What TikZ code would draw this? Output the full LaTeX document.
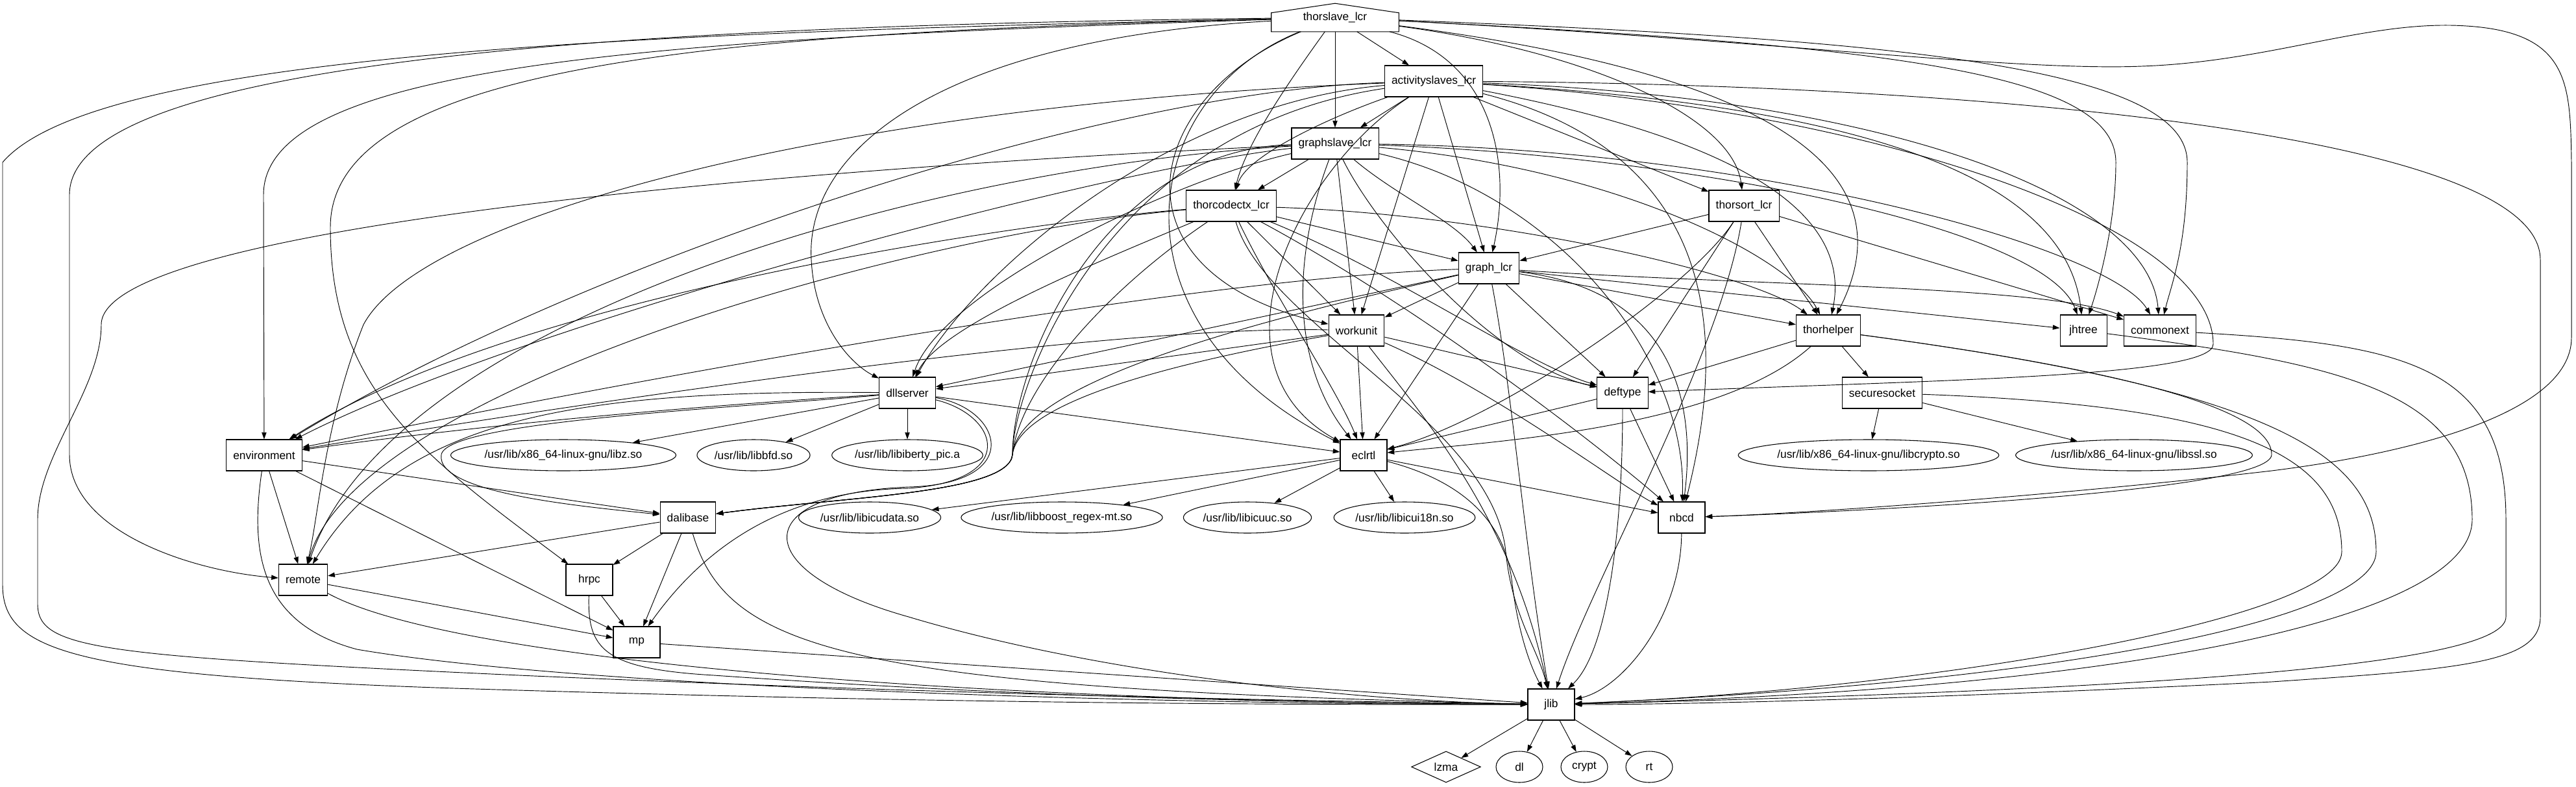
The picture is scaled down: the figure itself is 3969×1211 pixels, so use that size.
\documentclass[tikz,border=0pt]{standalone}
\usepackage{fontspec}
\setmainfont{Liberation Sans}
\usepackage{tikz}
\usetikzlibrary{arrows.meta,shapes.geometric}

\begin{document}
\begin{tikzpicture}[
  x=0.75pt, y=-0.75pt,
  every node/.style={font=\fontsize{13pt}{15pt}\selectfont},
  box/.style={draw, line width=0.8pt, rectangle, minimum width=54pt, minimum height=36pt, inner xsep=8pt},
  lib/.style={draw, line width=0.8pt, ellipse, minimum width=54pt, minimum height=36pt, inner xsep=1pt, inner ysep=2pt},
  dep/.style={-{Triangle[length=8pt,width=5.5pt]}, line width=0.7pt}
]
  \useasboundingbox (0,0) rectangle (3969,1211);

  \node[rectangle, minimum width=147pt, minimum height=32.3pt, inner sep=0pt]
        (thorslave) at (2057,27) {thorslave\_lcr};
  \draw[line width=0.8pt] (thorslave.south west) -- ([yshift=-10.9pt]thorslave.north west)
        -- (thorslave.north) -- ([yshift=-10.9pt]thorslave.north east)
        -- (thorslave.south east) -- cycle;

  \node[box] (act)        at (2209,125)  {activityslaves\_lcr};
  \node[box] (gslave)     at (2057,221)  {graphslave\_lcr};
  \node[box] (codectx)    at (1897,317)  {thorcodectx\_lcr};
  \node[box] (thorsort)   at (2687,317)  {thorsort\_lcr};
  \node[box] (graph)      at (2294,413)  {graph\_lcr};
  \node[box] (workunit)   at (2090,509)  {workunit};
  \node[box] (thorhelper) at (2817,509)  {thorhelper};
  \node[box] (jhtree)     at (3210,509)  {jhtree};
  \node[box] (commonext)  at (3328,509)  {commonext};
  \node[box] (dllserver)  at (1398,605)  {dllserver};
  \node[box] (deftype)    at (2500,605)  {deftype};
  \node[box] (securesock) at (2900,605)  {securesocket};
  \node[box] (environment) at (407,701)  {environment};
  \node[box] (eclrtl)     at (2101,701)  {eclrtl};
  \node[box] (dalibase)   at (1060,797)  {dalibase};
  \node[box] (nbcd)       at (2591,797)  {nbcd};
  \node[box] (remote)     at (467,893)   {remote};
  \node[box] (hrpc)       at (908,893)   {hrpc};
  \node[box] (mp)         at (981,989)   {mp};
  \node[box] (jlib)       at (2390,1085) {jlib};

  \node[lib] (libz)       at (868,701)   {/usr/lib/x86\_64-linux-gnu/libz.so};
  \node[lib] (libbfd)     at (1161,701)  {/usr/lib/libbfd.so};
  \node[lib] (libiberty)  at (1398,701)  {/usr/lib/libiberty\_pic.a};
  \node[lib] (libcrypto)  at (2879,701)  {/usr/lib/x86\_64-linux-gnu/libcrypto.so};
  \node[lib] (libssl)     at (3288,701)  {/usr/lib/x86\_64-linux-gnu/libssl.so};
  \node[lib] (libicudata) at (1340,797)  {/usr/lib/libicudata.so};
  \node[lib] (libboost)   at (1636,797)  {/usr/lib/libboost\_regex-mt.so};
  \node[lib] (libicuuc)   at (1922,797)  {/usr/lib/libicuuc.so};
  \node[lib] (libicui18n) at (2164,797)  {/usr/lib/libicui18n.so};
  \node[draw, line width=0.8pt, diamond, aspect=2.2, inner sep=0pt, minimum width=80pt, minimum height=36pt]
        (lzma) at (2228,1181) {lzma};
  \node[lib] (dl)         at (2341,1181) {dl};
  \node[lib] (crypt)      at (2441,1181) {crypt};
  \node[lib] (rt)         at (2541,1181) {rt};

  % thorslave_lcr
  \draw[dep] (thorslave) -- (act);
  \draw[dep] (thorslave) -- (gslave);
  \draw[dep] (thorslave) .. controls (1990,120) and (1920,220) .. (codectx);
  \draw[dep] (thorslave) .. controls (2450,80) and (2670,180) .. (thorsort);
  \draw[dep] (thorslave) .. controls (2300,90) and (2330,250) .. (graph);
  \draw[dep] (thorslave) .. controls (1760,150) and (1700,420) .. (workunit);
  \draw[dep] (thorslave) .. controls (1750,150) and (1700,500) .. (eclrtl);
  \draw[dep] (thorslave) .. controls (2700,110) and (2950,250) .. (thorhelper);
  \draw[dep] (thorslave) .. controls (2900,70) and (3260,110) .. (3260,250)
        .. controls (3260,350) and (3230,450) .. (jhtree);
  \draw[dep] (thorslave) .. controls (2900,60) and (3370,100) .. (3370,250)
        .. controls (3370,380) and (3345,440) .. (commonext);
  \draw[dep] (thorslave) .. controls (1450,60) and (1240,230) .. (1250,400)
        .. controls (1255,500) and (1310,560) .. (dllserver);
  \draw[dep] (thorslave) .. controls (1000,60) and (406,100) .. (406,300) -- (environment);
  \draw[dep] (thorslave) .. controls (900,40) and (107,100) .. (107,300) -- (107,700)
        .. controls (107,820) and (300,880) .. (remote);
  \draw[dep] (thorslave) .. controls (1100,50) and (509,100) .. (509,350)
        .. controls (509,600) and (650,700) .. (hrpc);
  \draw[dep] (thorslave) .. controls (1000,50) and (150,80) .. (4,250) -- (4,900)
        .. controls (4,1000) and (100,1040) .. (700,1060)
        .. controls (1500,1085) and (2000,1085) .. (jlib);
  \draw[dep] (thorslave) .. controls (2700,60) and (3100,110) .. (3300,102)
        .. controls (3500,95) and (3650,30) .. (3800,40)
        .. controls (3960,50) and (3960,130) .. (3962,250) -- (3962,520)
        .. controls (3962,640) and (3700,700) .. (3500,725)
        .. controls (3200,760) and (2800,790) .. (nbcd);

  % activityslaves_lcr
  \draw[dep] (act) -- (gslave);
  \draw[dep] (act) .. controls (2050,180) and (1920,240) .. (codectx);
  \draw[dep] (act) -- (thorsort);
  \draw[dep] (act) -- (graph);
  \draw[dep] (act) -- (workunit);
  \draw[dep] (act) .. controls (1800,160) and (1500,420) .. (dllserver);
  \draw[dep] (act) .. controls (1700,140) and (900,400) .. (environment);
  \draw[dep] (act) .. controls (1300,160) and (650,330) .. (560,500)
        .. controls (500,650) and (490,800) .. (remote);
  \draw[dep] (act) .. controls (1700,200) and (1560,600) .. (1560,700)
        .. controls (1555,760) and (1300,765) .. (dalibase);
  \draw[dep] (act) .. controls (2000,260) and (1850,560) .. (eclrtl);
  \draw[dep] (act) .. controls (2600,200) and (2860,300) .. (thorhelper);
  \draw[dep] (act) .. controls (2800,160) and (3180,250) .. (jhtree);
  \draw[dep] (act) .. controls (2900,150) and (3310,300) .. (commonext);
  \draw[dep] (act) .. controls (2700,250) and (2640,600) .. (nbcd);
  \draw[dep] (act) .. controls (2900,170) and (3410,350) .. (3410,530)
        .. controls (3410,580) and (3000,585) .. (deftype);
  \draw[dep] (act) .. controls (3000,130) and (3914,200) .. (3914,400) -- (3914,950)
        .. controls (3914,1020) and (3800,1030) .. (3500,1050)
        .. controls (3000,1075) and (2600,1085) .. (jlib);

  % graphslave_lcr
  \draw[dep] (gslave) -- (codectx);
  \draw[dep] (gslave) .. controls (2150,300) and (2240,340) .. (graph);
  \draw[dep] (gslave) -- (workunit);
  \draw[dep] (gslave) .. controls (1800,280) and (1450,450) .. (dllserver);
  \draw[dep] (gslave) .. controls (1700,260) and (800,500) .. (environment);
  \draw[dep] (gslave) .. controls (1400,260) and (600,500) .. (remote);
  \draw[dep] (gslave) .. controls (1700,230) and (1560,560) .. (1560,700)
        .. controls (1555,760) and (1300,765) .. (dalibase);
  \draw[dep] (gslave) .. controls (1990,400) and (1990,560) .. (eclrtl);
  \draw[dep] (gslave) .. controls (2120,350) and (2300,560) .. (deftype);
  \draw[dep] (gslave) .. controls (2400,300) and (2600,550) .. (nbcd);
  \draw[dep] (gslave) .. controls (2500,260) and (2760,400) .. (thorhelper);
  \draw[dep] (gslave) .. controls (2600,240) and (3150,350) .. (jhtree);
  \draw[dep] (gslave) .. controls (2700,230) and (3250,380) .. (commonext);
  \draw[dep] (gslave) .. controls (1200,260) and (156,350) .. (156,500)
        .. controls (156,600) and (58,700) .. (58,800) -- (58,930)
        .. controls (58,1000) and (150,1010) .. (800,1040)
        .. controls (1600,1075) and (2100,1080) .. (jlib);

  % thorcodectx_lcr
  \draw[dep] (codectx) -- (graph);
  \draw[dep] (codectx) -- (workunit);
  \draw[dep] (codectx) .. controls (1700,400) and (1450,500) .. (dllserver);
  \draw[dep] (codectx) .. controls (1600,340) and (800,450) .. (environment);
  \draw[dep] (codectx) .. controls (1400,360) and (550,600) .. (remote);
  \draw[dep] (codectx) .. controls (1700,450) and (1570,600) .. (1560,700)
        .. controls (1555,760) and (1300,765) .. (dalibase);
  \draw[dep] (codectx) .. controls (1960,450) and (2060,600) .. (eclrtl);
  \draw[dep] (codectx) .. controls (2150,420) and (2350,560) .. (deftype);
  \draw[dep] (codectx) .. controls (2200,480) and (2480,700) .. (nbcd);
  \draw[dep] (codectx) .. controls (2300,330) and (2700,420) .. (thorhelper);
  \draw[dep] (codectx) .. controls (1950,500) and (2300,650) .. (2320,850)
        .. controls (2330,950) and (2370,1000) .. (jlib);

  % thorsort_lcr
  \draw[dep] (thorsort) -- (graph);
  \draw[dep] (thorsort) -- (thorhelper);
  \draw[dep] (thorsort) -- (commonext);
  \draw[dep] (thorsort) -- (deftype);
  \draw[dep] (thorsort) .. controls (2600,450) and (2300,650) .. (eclrtl);
  \draw[dep] (thorsort) .. controls (2650,550) and (2450,900) .. (jlib);

  % graph_lcr
  \draw[dep] (graph) -- (workunit);
  \draw[dep] (graph) -- (dllserver);
  \draw[dep] (graph) -- (eclrtl);
  \draw[dep] (graph) -- (deftype);
  \draw[dep] (graph) -- (thorhelper);
  \draw[dep] (graph) -- (jhtree);
  \draw[dep] (graph) .. controls (1800,430) and (900,600) .. (environment);
  \draw[dep] (graph) .. controls (2000,480) and (1570,580) .. (1560,700)
        .. controls (1555,760) and (1300,765) .. (dalibase);
  \draw[dep] (graph) .. controls (2600,450) and (2610,650) .. (nbcd);
  \draw[dep] (graph) .. controls (2700,440) and (3150,440) .. (commonext);
  \draw[dep] (graph) .. controls (2330,600) and (2350,850) .. (jlib);

  % workunit
  \draw[dep] (workunit) -- (dllserver);
  \draw[dep] (workunit) -- (eclrtl);
  \draw[dep] (workunit) -- (deftype);
  \draw[dep] (workunit) .. controls (1700,500) and (900,620) .. (environment);
  \draw[dep] (workunit) .. controls (1800,560) and (1570,620) .. (1560,700)
        .. controls (1555,760) and (1300,765) .. (dalibase);
  \draw[dep] (workunit) .. controls (2300,600) and (2500,750) .. (nbcd);
  \draw[dep] (workunit) .. controls (2200,650) and (2330,800) .. (jlib);

  % thorhelper, jhtree, commonext, securesocket
  \draw[dep] (thorhelper) -- (deftype);
  \draw[dep] (thorhelper) .. controls (2650,660) and (2300,680) .. (eclrtl);
  \draw[dep] (thorhelper) -- (securesock);
  \draw[dep] (thorhelper) .. controls (3200,560) and (3500,620) .. (3500,700)
        .. controls (3500,760) and (2800,790) .. (nbcd);
  \draw[dep] (thorhelper) .. controls (3500,600) and (3661,700) .. (3661,850)
        .. controls (3661,950) and (3200,1050) .. (jlib);
  \draw[dep] (jhtree) .. controls (3600,560) and (3809,600) .. (3809,800)
        .. controls (3809,950) and (3300,1060) .. (jlib);
  \draw[dep] (commonext) .. controls (3700,530) and (3861,560) .. (3861,800) -- (3861,950)
        .. controls (3861,1020) and (3400,1060) .. (jlib);
  \draw[dep] (securesock) -- (libcrypto);
  \draw[dep] (securesock) -- (libssl);
  \draw[dep] (securesock) .. controls (3450,625) and (3608,700) .. (3608,850)
        .. controls (3608,950) and (3000,1060) .. (jlib);

  % deftype
  \draw[dep] (deftype) -- (eclrtl);
  \draw[dep] (deftype) -- (nbcd);
  \draw[dep] (deftype) .. controls (2500,800) and (2480,1000) .. (jlib);

  % dllserver
  \draw[dep] (dllserver) .. controls (1000,630) and (700,660) .. (environment);
  \draw[dep] (dllserver) .. controls (900,600) and (620,640) .. (remote);
  \draw[dep] (dllserver) .. controls (1100,630) and (690,650) .. (680,700)
        .. controls (670,760) and (900,780) .. (dalibase);
  \draw[dep] (dllserver) .. controls (1540,640) and (1570,740) .. (1400,752)
        .. controls (1200,755) and (1080,850) .. (mp);
  \draw[dep] (dllserver) -- (libz);
  \draw[dep] (dllserver) -- (libbfd);
  \draw[dep] (dllserver) -- (libiberty);
  \draw[dep] (dllserver) -- (eclrtl);
  \draw[dep] (dllserver) .. controls (1545,630) and (1580,745) .. (1400,750)
        .. controls (1150,760) and (1150,880) .. (1400,950)
        .. controls (1700,1040) and (2100,1080) .. (jlib);

  % environment, dalibase, remote, hrpc, mp
  \draw[dep] (environment) -- (remote);
  \draw[dep] (environment) -- (dalibase);
  \draw[dep] (environment) -- (mp);
  \draw[dep] (environment) .. controls (385,850) and (400,960) .. (550,1000)
        .. controls (900,1060) and (1800,1085) .. (jlib);
  \draw[dep] (dalibase) -- (remote);
  \draw[dep] (dalibase) -- (hrpc);
  \draw[dep] (dalibase) -- (mp);
  \draw[dep] (dalibase) .. controls (1120,1000) and (1300,1060) .. (jlib);
  \draw[dep] (remote) -- (mp);
  \draw[dep] (remote) .. controls (700,1020) and (1500,1080) .. (jlib);
  \draw[dep] (hrpc) -- (mp);
  \draw[dep] (hrpc) .. controls (905,1000) and (930,1030) .. (1100,1040)
        .. controls (1600,1075) and (2000,1082) .. (jlib);
  \draw[dep] (mp) -- (jlib);

  % eclrtl, nbcd, jlib
  \draw[dep] (eclrtl) -- (libicudata);
  \draw[dep] (eclrtl) -- (libboost);
  \draw[dep] (eclrtl) -- (libicuuc);
  \draw[dep] (eclrtl) -- (libicui18n);
  \draw[dep] (eclrtl) -- (nbcd);
  \draw[dep] (eclrtl) .. controls (2250,740) and (2320,800) .. (2330,900)
        .. controls (2340,980) and (2360,1030) .. (jlib);
  \draw[dep] (nbcd) .. controls (2590,950) and (2500,1060) .. (jlib);
  \draw[dep] (jlib) -- (lzma);
  \draw[dep] (jlib) -- (dl);
  \draw[dep] (jlib) -- (crypt);
  \draw[dep] (jlib) -- (rt);
\end{tikzpicture}
\end{document}
